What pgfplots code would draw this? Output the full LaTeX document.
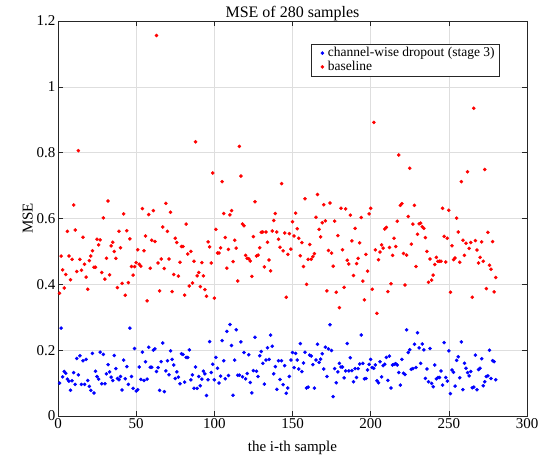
\documentclass[border=0pt]{standalone}
\usepackage{pgfplots}
\pgfplotsset{compat=1.18}
\usepackage{fontspec}
\setmainfont{Liberation Serif}
\definecolor{gridgray}{RGB}{222,222,222}
\definecolor{axgray}{RGB}{38,38,38}
\begin{document}
\begin{tikzpicture}
\path[use as bounding box] (-58bp,-45bp) rectangle (492bp,416bp);
\begin{axis}[
  at={(0,0)}, anchor=south west,
  scale only axis,
  width=469bp, height=395bp,
  xmin=0, xmax=300, ymin=0, ymax=1.2,
  xtick={0,50,...,300},
  ytick={0,0.2,0.4,0.6,0.8,1,1.2},
  yticklabels={0,0.2,0.4,0.6,0.8,1,1.2},
  grid=major,
  major grid style={gridgray, line width=0.5pt},
  axis line style={axgray, line width=0.6pt},
  tick style={axgray, line width=0.5pt},
  major tick length=5bp,
  font=\fontsize{15bp}{17bp}\selectfont,
  /pgf/number format/assume math mode=true,
  yticklabel style={xshift=1bp},
  xticklabel style={yshift=1bp},
  title={MSE of 280 samples},
  title style={font=\fontsize{16bp}{18bp}\selectfont, yshift=-9bp},
  xlabel={the i-th sample},
  ylabel={MSE},
  xlabel style={yshift=-6bp},
  ylabel style={yshift=-3bp},
  legend cell align=left,
  legend style={at={(0.942,0.942)}, anchor=north east, draw=axgray,
    font=\fontsize{13.5bp}{15bp}\selectfont, inner xsep=3bp, inner ysep=1.5bp,
    row sep=-1bp},
  legend image code/.code={\path[draw=none,fill=none] (-0.3cm,0cm) -- (0.12cm,0cm);
    \draw[only marks] plot coordinates {(0cm,0cm)};},
]
\addplot[only marks, mark=*, mark size=1.6pt, draw=blue, fill=blue] coordinates {
(1,0.100) (2,0.267) (3,0.119) (4,0.135) (5,0.130) (6,0.112) (7,0.106) (8,0.078) (9,0.107) (10,0.132)
(11,0.096) (12,0.175) (13,0.125) (14,0.183) (15,0.096) (16,0.168) (17,0.096) (18,0.172) (19,0.108) (20,0.090)
(21,0.078) (22,0.190) (23,0.070) (24,0.136) (25,0.120) (26,0.112) (27,0.194) (28,0.098) (29,0.187) (30,0.098)
(31,0.128) (32,0.156) (33,0.134) (34,0.118) (35,0.108) (36,0.184) (37,0.144) (38,0.114) (39,0.110) (40,0.120)
(41,0.079) (42,0.170) (43,0.113) (44,0.150) (45,0.096) (46,0.267) (47,0.120) (48,0.084) (49,0.205) (50,0.076)
(51,0.080) (52,0.149) (53,0.111) (54,0.194) (55,0.108) (56,0.165) (57,0.112) (58,0.209) (59,0.148) (60,0.148)
(61,0.200) (62,0.204) (63,0.135) (64,0.147) (65,0.078) (66,0.165) (67,0.222) (68,0.074) (69,0.137) (70,0.168)
(71,0.125) (72,0.198) (73,0.172) (74,0.155) (75,0.114) (76,0.134) (77,0.118) (78,0.098) (79,0.189) (80,0.187)
(81,0.103) (82,0.178) (83,0.178) (84,0.201) (85,0.110) (86,0.125) (87,0.084) (88,0.149) (89,0.084) (90,0.120)
(91,0.092) (92,0.112) (93,0.136) (94,0.128) (95,0.062) (96,0.110) (97,0.226) (98,0.132) (99,0.157) (100,0.110)
(101,0.178) (102,0.145) (103,0.100) (104,0.121) (105,0.229) (106,0.168) (107,0.113) (108,0.257) (109,0.123) (110,0.278)
(111,0.214) (112,0.063) (113,0.170) (114,0.262) (115,0.124) (116,0.124) (117,0.225) (118,0.119) (119,0.193) (120,0.113)
(121,0.129) (122,0.186) (123,0.102) (124,0.070) (125,0.138) (126,0.239) (127,0.136) (128,0.120) (129,0.183) (130,0.196)
(131,0.160) (132,0.097) (133,0.170) (134,0.207) (135,0.172) (136,0.246) (137,0.212) (138,0.128) (139,0.150) (140,0.081)
(141,0.168) (142,0.111) (143,0.168) (144,0.095) (145,0.153) (146,0.069) (147,0.085) (148,0.120) (149,0.170) (150,0.193)
(151,0.147) (152,0.190) (153,0.170) (154,0.143) (155,0.220) (156,0.135) (157,0.161) (158,0.194) (159,0.085) (160,0.088)
(161,0.185) (162,0.182) (163,0.156) (164,0.085) (165,0.170) (166,0.218) (167,0.163) (168,0.173) (169,0.189) (170,0.143)
(171,0.209) (172,0.120) (173,0.204) (174,0.277) (175,0.199) (176,0.059) (177,0.144) (178,0.101) (179,0.134) (180,0.160)
(181,0.149) (182,0.149) (183,0.116) (184,0.137) (185,0.220) (186,0.137) (187,0.177) (188,0.138) (189,0.104) (190,0.144)
(191,0.117) (192,0.144) (193,0.158) (194,0.246) (195,0.160) (196,0.113) (197,0.114) (198,0.140) (199,0.157) (200,0.172)
(201,0.147) (202,0.145) (203,0.155) (204,0.107) (205,0.101) (206,0.165) (207,0.119) (208,0.153) (209,0.157) (210,0.178)
(211,0.108) (212,0.182) (213,0.085) (214,0.155) (215,0.157) (216,0.159) (217,0.155) (218,0.132) (219,0.094) (220,0.172)
(221,0.130) (222,0.126) (223,0.262) (224,0.193) (225,0.201) (226,0.142) (227,0.144) (228,0.218) (229,0.147) (230,0.253)
(231,0.207) (232,0.160) (233,0.219) (234,0.201) (235,0.114) (236,0.143) (237,0.104) (238,0.205) (239,0.099) (240,0.089)
(241,0.155) (242,0.113) (243,0.117) (244,0.117) (245,0.137) (246,0.094) (247,0.223) (248,0.117) (249,0.106) (250,0.198)
(251,0.068) (252,0.140) (253,0.133) (254,0.091) (255,0.169) (256,0.180) (257,0.116) (258,0.225) (259,0.080) (260,0.160)
(261,0.145) (262,0.132) (263,0.122) (264,0.135) (265,0.086) (266,0.088) (267,0.185) (268,0.080) (269,0.141) (270,0.145)
(271,0.174) (272,0.092) (273,0.104) (274,0.120) (275,0.122) (276,0.200) (277,0.114) (278,0.168) (279,0.165) (280,0.110)
};
\addlegendentry{channel-wise dropout (stage 3)}
\addplot[only marks, mark=*, mark size=1.6pt, draw=red, fill=red] coordinates {
(1,0.373) (2,0.486) (3,0.444) (4,0.389) (5,0.430) (6,0.561) (7,0.486) (8,0.414) (9,0.476) (10,0.641)
(11,0.565) (12,0.439) (13,0.806) (14,0.476) (15,0.443) (16,0.543) (17,0.461) (18,0.422) (19,0.385) (20,0.472)
(21,0.486) (22,0.502) (23,0.452) (24,0.452) (25,0.537) (26,0.520) (27,0.535) (28,0.436) (29,0.602) (30,0.416)
(31,0.479) (32,0.653) (33,0.429) (34,0.517) (35,0.528) (36,0.500) (37,0.479) (38,0.390) (39,0.561) (40,0.511)
(41,0.403) (42,0.614) (43,0.367) (44,0.563) (45,0.405) (46,0.538) (47,0.454) (48,0.428) (49,0.454) (50,0.466)
(51,0.505) (52,0.461) (53,0.455) (54,0.630) (55,0.502) (56,0.547) (57,0.350) (58,0.612) (59,0.449) (60,0.534)
(61,0.624) (62,0.530) (63,1.156) (64,0.465) (65,0.380) (66,0.477) (67,0.574) (68,0.448) (69,0.646) (70,0.561)
(71,0.477) (72,0.619) (73,0.378) (74,0.430) (75,0.540) (76,0.527) (77,0.425) (78,0.467) (79,0.515) (80,0.515)
(81,0.367) (82,0.583) (83,0.492) (84,0.395) (85,0.500) (86,0.404) (87,0.470) (88,0.833) (89,0.426) (90,0.436)
(91,0.393) (92,0.466) (93,0.426) (94,0.384) (95,0.364) (96,0.529) (97,0.514) (98,0.465) (99,0.738) (100,0.358)
(101,0.567) (102,0.495) (103,0.495) (104,0.511) (105,0.712) (106,0.615) (107,0.542) (108,0.449) (109,0.506) (110,0.611)
(111,0.624) (112,0.469) (113,0.534) (114,0.510) (115,0.410) (116,0.819) (117,0.729) (118,0.583) (119,0.578) (120,0.488)
(121,0.479) (122,0.478) (123,0.471) (124,0.424) (125,0.545) (126,0.651) (127,0.486) (128,0.489) (129,0.511) (130,0.558)
(131,0.559) (132,0.453) (133,0.559) (134,0.528) (135,0.474) (136,0.441) (137,0.562) (138,0.594) (139,0.615) (140,0.559)
(141,0.537) (142,0.513) (143,0.706) (144,0.502) (145,0.556) (146,0.361) (147,0.491) (148,0.554) (149,0.507) (150,0.590)
(151,0.547) (152,0.616) (153,0.569) (154,0.540) (155,0.487) (156,0.527) (157,0.454) (158,0.660) (159,0.400) (160,0.476)
(161,0.521) (162,0.476) (163,0.484) (164,0.493) (165,0.604) (166,0.673) (167,0.567) (168,0.544) (169,0.587) (170,0.642)
(171,0.593) (172,0.380) (173,0.503) (174,0.647) (175,0.495) (176,0.455) (177,0.592) (178,0.376) (179,0.548) (180,0.329)
(181,0.631) (182,0.505) (183,0.391) (184,0.629) (185,0.473) (186,0.462) (187,0.610) (188,0.532) (189,0.427) (190,0.570)
(191,0.463) (192,0.479) (193,0.526) (194,0.603) (195,0.410) (196,0.353) (197,0.491) (198,0.440) (199,0.614) (200,0.631)
(201,0.385) (202,0.892) (203,0.505) (204,0.312) (205,0.475) (206,0.498) (207,0.520) (208,0.510) (209,0.568) (210,0.573)
(211,0.378) (212,0.512) (213,0.402) (214,0.488) (215,0.540) (216,0.515) (217,0.592) (218,0.793) (219,0.640) (220,0.645)
(221,0.494) (222,0.398) (223,0.489) (224,0.606) (225,0.753) (226,0.522) (227,0.583) (228,0.640) (229,0.454) (230,0.552)
(231,0.584) (232,0.586) (233,0.575) (234,0.570) (235,0.542) (236,0.500) (237,0.406) (238,0.477) (239,0.413) (240,0.428)
(241,0.460) (242,0.482) (243,0.470) (244,0.470) (245,0.470) (246,0.631) (247,0.546) (248,0.468) (249,0.540) (250,0.625)
(251,0.376) (252,0.517) (253,0.475) (254,0.480) (255,0.601) (256,0.559) (257,0.467) (258,0.712) (259,0.534) (260,0.488)
(261,0.525) (262,0.742) (263,0.509) (264,0.527) (265,0.361) (266,0.935) (267,0.533) (268,0.504) (269,0.465) (270,0.482)
(271,0.529) (272,0.470) (273,0.749) (274,0.387) (275,0.558) (276,0.458) (277,0.446) (278,0.530) (279,0.377) (280,0.421)
};
\addlegendentry{baseline}
\end{axis}
\end{tikzpicture}
\end{document}
